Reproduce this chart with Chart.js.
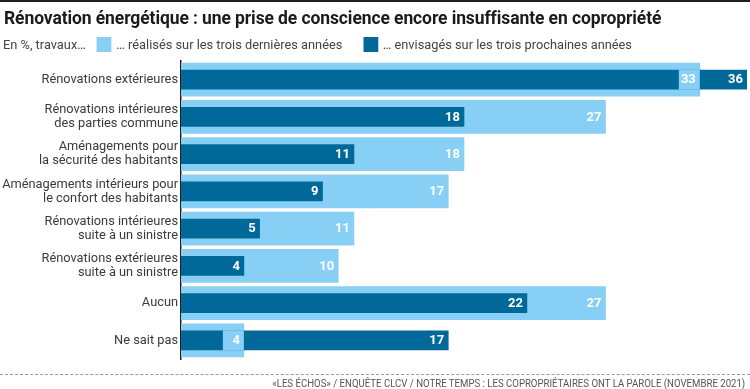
<!DOCTYPE html>
<html>
<head>
<meta charset="utf-8">
<script src="https://cdn.jsdelivr.net/npm/chart.js@4.4.1/dist/chart.umd.min.js"></script>
<style>
  html, body { margin: 0; padding: 0; background: #fff; }
  #wrap { position: relative; width: 750px; height: 389px; overflow: hidden; background: #fff; font-family: Roboto, "Noto Sans", sans-serif; }
  #topline { position: absolute; left: 0; top: 0; width: 750px; height: 2px; background: #1f1f1f; }
  #title { position: absolute; left: 4px; top: 7px; font-size: 18.5px; font-weight: 700; color: #1b1b1b; white-space: nowrap; transform-origin: 0 0; transform: scaleX(0.945); letter-spacing: -0.1px; }
  #legend { position: absolute; left: 3px; top: 36px; font-size: 13px; color: #444; white-space: nowrap; transform-origin: 0 0; transform: scaleX(0.985); }
  #legend span { display: inline-block; vertical-align: middle; }
  .box { width: 15px; height: 15px; margin: 0 5px 0 0; }
  #dash { position: absolute; left: 0; top: 374px; width: 750px; height: 0; border-top: 1px dashed #9a9a9a; }
  #source { position: absolute; right: 5px; top: 377px; font-size: 11px; color: #555; white-space: nowrap; transform-origin: 100% 0; transform: scaleX(0.874); }
  canvas { position: absolute; left: 0; top: 0; }
</style>
</head>
<body>
<div id="wrap">
  <canvas id="c" width="750" height="389"></canvas>
  <div id="topline"></div>
  <div id="title"></div>
  <div id="legend"></div>
  <div id="dash"></div>
  <div id="source"></div>
</div>
<script>
const titleText = "Rénovation énergétique : une prise de conscience encore insuffisante en copropriété";
const unitText = "En %, travaux…";
const seriesNames = ["… réalisés sur les trois dernières années", "… envisagés sur les trois prochaines années"];
const sourceText = "«LES ÉCHOS» / ENQUÊTE CLCV / NOTRE TEMPS : LES COPROPRIÉTAIRES ONT LA PAROLE (NOVEMBRE 2021)";

const categories = [
  "Rénovations extérieures",
  ["Rénovations intérieures", "des parties commune"],
  ["Aménagements pour", "la sécurité des habitants"],
  ["Aménagements intérieurs pour", "le confort des habitants"],
  ["Rénovations intérieures", "suite à un sinistre"],
  ["Rénovations extérieures", "suite à un sinistre"],
  "Aucun",
  "Ne sait pas"
];
const realises = [33, 27, 18, 17, 11, 10, 27, 4];
const envisages = [36, 18, 11, 9, 5, 4, 22, 17];

const LIGHT = "#87cff4";
const DARK = "#01699a";

document.getElementById("title").textContent = titleText;
document.getElementById("source").textContent = sourceText;
const lg = document.getElementById("legend");
lg.innerHTML = '<span style="margin-right:11px">' + unitText + '</span>' +
  '<span class="box" style="background:' + LIGHT + '"></span><span style="margin-right:21px">' + seriesNames[0] + '</span>' +
  '<span class="box" style="background:' + DARK + '"></span><span>' + seriesNames[1] + '</span>';

const valueLabels = {
  id: "valueLabels",
  afterDatasetsDraw(chart) {
    const ctx = chart.ctx;
    const mLight = chart.getDatasetMeta(0);
    const mDark = chart.getDatasetMeta(1);
    ctx.save();
    ctx.font = "bold 13px Roboto, sans-serif";
    ctx.textAlign = "right";
    ctx.textBaseline = "middle";
    for (let i = 0; i < categories.length; i++) {
      const bd = mDark.data[i];
      const bl = mLight.data[i];
      ctx.fillStyle = "#ffffff";
      ctx.fillText(String(envisages[i]), bd.x - 4, bd.y + 0.5);
      if (realises[i] < envisages[i]) {
        ctx.fillStyle = LIGHT;
        ctx.fillRect(bl.x - 21, bd.y - bd.height / 2 - 0.5, 21, bd.height + 1);
      }
      ctx.fillStyle = "#ffffff";
      ctx.fillText(String(realises[i]), bl.x - 4, bl.y + 0.5);
    }
    ctx.restore();
  }
};

new Chart(document.getElementById("c"), {
  type: "bar",
  data: {
    labels: categories,
    datasets: [
      { label: seriesNames[0], data: realises, backgroundColor: LIGHT, barThickness: 33, order: 2 },
      { label: seriesNames[1], data: envisages, backgroundColor: DARK, barThickness: 19, order: 1 }
    ]
  },
  options: {
    indexAxis: "y",
    responsive: false,
    animation: false,
    devicePixelRatio: 1,
    layout: { padding: { top: 61, bottom: 30, right: 3, left: 0 } },
    datasets: { bar: { grouped: false } },
    plugins: { legend: { display: false }, tooltip: { enabled: false }, title: { display: false } },
    scales: {
      x: { display: false, min: 0, max: 36 },
      y: {
        grid: { display: false, drawTicks: false },
        border: { display: true, color: "#1f1f1f", width: 1.5 },
        ticks: { color: "#3a3a3a", padding: 3, font: { family: "Roboto", size: 12.8, lineHeight: 1.1 } },
        afterFit(s) { s.width = 181; }
      }
    }
  },
  plugins: [valueLabels]
});
</script>
</body>
</html>
